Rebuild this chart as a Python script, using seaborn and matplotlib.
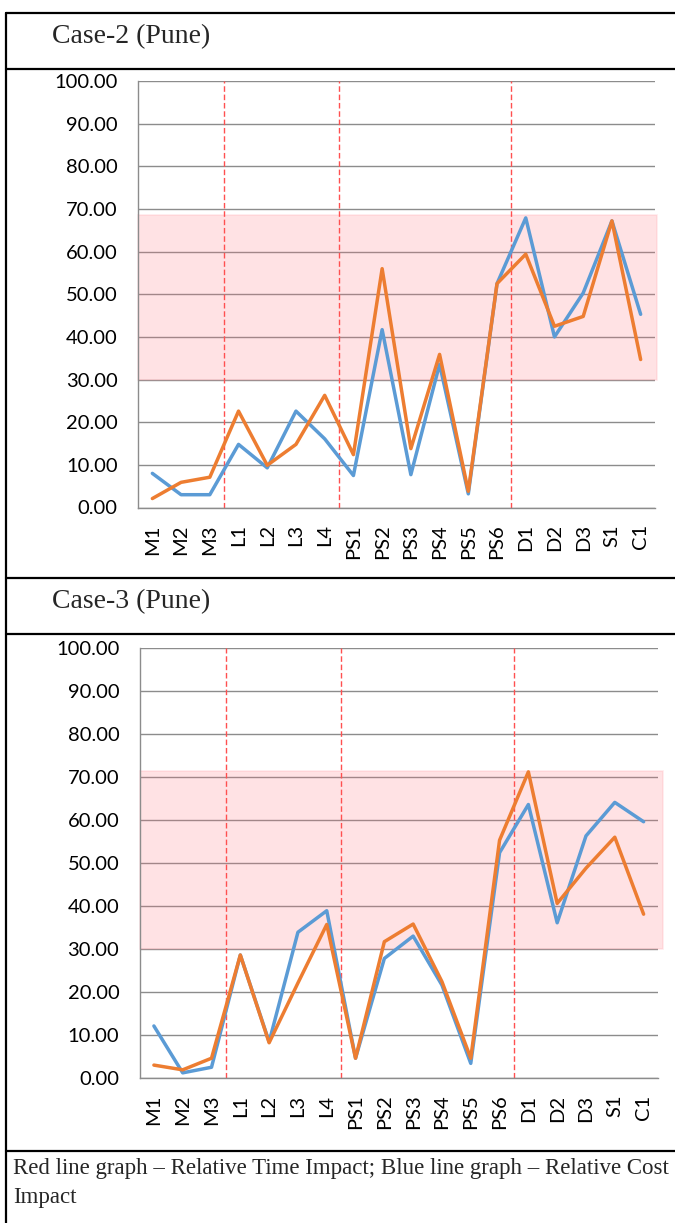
#!/usr/bin/env python
# -*- coding: utf-8 -*-

"""
Plot relative time / cost impact for Case-2 and Case-3 (Pune)
"""

import matplotlib
matplotlib.use('Agg')
import matplotlib.pyplot as plt
import numpy as np
import pandas as pd
import seaborn as sns

from matplotlib.lines import Line2D
from matplotlib.patches import Rectangle

categories = ['M1', 'M2', 'M3', 'L1', 'L2', 'L3', 'L4',
              'PS1', 'PS2', 'PS3', 'PS4', 'PS5', 'PS6',
              'D1', 'D2', 'D3', 'S1', 'C1']
# first category of each new group (dashed separators)
group_starts = ['L1', 'PS1', 'D1']

case2_cost = [8.0, 3.0, 3.0, 14.8, 9.3, 22.6, 16.1, 7.5, 41.7, 7.7, 33.6, 3.2,
              52.5, 67.9, 40.0, 50.3, 67.2, 45.3]
case2_time = [2.1, 5.9, 7.1, 22.6, 9.9, 14.8, 26.3, 12.4, 56.0, 13.8, 35.9, 3.8,
              52.5, 59.4, 42.5, 44.8, 67.2, 34.7]
case2_band = [30.0, 68.5]

case3_cost = [12.1, 1.2, 2.5, 28.6, 8.4, 33.9, 38.9, 4.6, 27.8, 33.0, 21.6, 3.4,
              52.4, 63.6, 36.1, 56.3, 64.1, 59.6]
case3_time = [3.0, 1.9, 4.6, 28.6, 8.2, 22.1, 35.7, 4.6, 31.7, 35.8, 22.4, 4.6,
              55.3, 71.2, 40.6, 48.8, 56.0, 38.1]
case3_band = [30.0, 71.5]

titles = ['Case-2 (Pune)', 'Case-3 (Pune)']
caption = ('Red line graph \u2013 Relative Time Impact; Blue line graph \u2013 '
           'Relative Cost\nImpact')

W, H = 675, 1223
blue = '#5B9BD5'
orange = '#ED7D31'
grey = '#8C8C8C'


def fx(x):
  return x / W


def fy(y):
  return 1 - y / H


def draw_case(fig, rect, cost, time, band, band_right):
  left, top, right, bottom = rect
  ax = fig.add_axes([fx(left), fy(bottom), fx(right - left), (bottom - top) / H])
  n = len(categories)
  df = pd.DataFrame({
      'pos': list(range(n)) * 2,
      'value': cost + time,
      'series': ['Cost'] * n + ['Time'] * n})
  sns.lineplot(data=df, x='pos', y='value', hue='series',
               palette={'Cost': blue, 'Time': orange}, linewidth=2.5,
               sort=False, legend=False, ax=ax, zorder=3)

  ax.set_xlim(-0.5, n - 0.5)
  ax.set_ylim(0, 100)
  ax.set_xlabel('')
  ax.set_ylabel('')

  # highlight band
  ax.add_patch(Rectangle((-0.5, band[0]), n + band_right, band[1] - band[0],
                         facecolor='#FF6E7A', alpha=0.2, edgecolor='#FF9AA2',
                         linewidth=1.2, zorder=1.5, clip_on=False))

  for g in group_starts:
    ax.axvline(categories.index(g) - 0.5, color='#FF5050', lw=1.0,
               ls=(0, (4, 2)), zorder=2)

  yt = np.arange(0, 101, 10)
  ax.set_yticks(yt)
  ax.set_yticklabels([f'{v:.2f}' for v in yt])
  ax.yaxis.grid(True, color=grey, lw=1.0)
  ax.xaxis.grid(False)
  ax.set_axisbelow(True)

  ax.set_xticks(range(n))
  ax.set_xticklabels(categories, rotation=90)
  ax.set_xticks(np.arange(-0.5, n, 1), minor=True)
  ax.tick_params(axis='x', which='major', length=0, pad=12, labelsize=14.5,
                 colors='black')
  ax.tick_params(axis='x', which='minor', length=5, width=1, color=grey,
                 direction='out')
  ax.tick_params(axis='y', length=4.5, width=1, color=grey, pad=10,
                 labelsize=14.5, labelcolor='black', direction='out')

  for s in ['top', 'right']:
    ax.spines[s].set_visible(False)
  for s in ['left', 'bottom']:
    ax.spines[s].set_color(grey)
    ax.spines[s].set_linewidth(1.0)
  return ax


def main():
  sns.set_theme(style='white')
  plt.rcParams['font.family'] = ['Lato', 'DejaVu Sans']

  fig = plt.figure(figsize=(W / 100, H / 100), dpi=100)

  # table borders
  for y in [13, 69, 578, 634, 1151]:
    fig.add_artist(Line2D([fx(6), fx(W)], [fy(y), fy(y)], color='black',
                          lw=1.6, transform=fig.transFigure))
  fig.add_artist(Line2D([fx(6), fx(6)], [fy(13), fy(H)], color='black',
                        lw=1.6, transform=fig.transFigure))

  fig.text(fx(52), fy(43), titles[0], fontsize=20, family='Liberation Serif',
           va='baseline', ha='left')
  fig.text(fx(52), fy(608), titles[1], fontsize=20, family='Liberation Serif',
           va='baseline', ha='left')
  fig.text(fx(13), fy(1158), caption, fontsize=16.5, family='Liberation Serif',
           va='top', ha='left', linespacing=1.5)

  draw_case(fig, (138, 81, 655, 507.5), case2_cost, case2_time, case2_band, 0.07)
  draw_case(fig, (139.5, 648, 658, 1078), case3_cost, case3_time, case3_band, 0.17)

  plotname = 'out.png'
  print(f'plotting {plotname}')
  plt.savefig(plotname, dpi=100)
  plt.close()


if __name__ == '__main__':
  main()
